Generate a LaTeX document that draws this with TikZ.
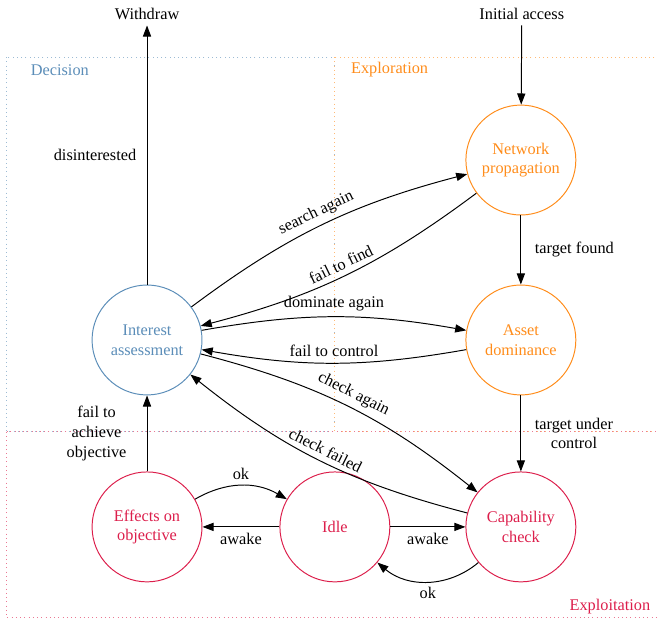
\documentclass[tikz,border=0pt]{standalone}
\usepackage{fontspec}
\setmainfont{Liberation Serif}
\usetikzlibrary{arrows.meta}
\definecolor{decision}{HTML}{5B8DB8}
\definecolor{explore}{HTML}{FF8C1A}
\definecolor{exploit}{HTML}{DC1E4B}
\tikzset{
  state/.style={circle, minimum size=2.37cm, inner sep=0pt, align=center, line width=0.6pt},
  decstate/.style={state, draw=decision, text=decision},
  expstate/.style={state, draw=explore, text=explore},
  xplstate/.style={state, draw=exploit, text=exploit},
  zone/.style={dotted, line width=0.6pt},
  trans/.style={-{Triangle[length=6.8pt,width=5pt]}, line width=0.6pt},
}

\begin{document}
\begin{tikzpicture}
  \useasboundingbox (0,0) rectangle (14.165,-13.367);
  % zones
  \draw[zone, draw=decision!60] (0.15,-1.23) rectangle (7.22,-9.31);
  \draw[zone, draw=explore!60] (7.22,-1.23) rectangle (14.6,-9.31);
  \draw[zone, draw=exploit!60] (0.15,-9.31) rectangle (14.6,-13.32);
  \node[text=decision] (zdec) at (1.29,-1.51) {Decision};
  \node[text=explore] (zexp) at (8.4,-1.51) {Exploration};
  \node[text=exploit] (zxpl) at (13.15,-13.07) {Exploitation};

  % states
  \node[decstate] (ia) at (3.17,-7.33) {Interest\\assessment};
  \node[expstate] (np) at (11.23,-3.45) {Network\\propagation};
  \node[expstate] (ad) at (11.23,-7.33) {Asset\\dominance};
  \node[xplstate] (cc) at (11.23,-11.36) {Capability\\check};
  \node[xplstate] (idle) at (7.22,-11.36) {Idle};
  \node[xplstate] (eo) at (3.17,-11.36) {Effects on\\objective};
  \node (wd) at (3.17,-0.30) {Withdraw};
  \node (init) at (11.25,-0.30) {Initial access};

  % transitions
  \draw[trans] (init) -- (np);
  \draw[trans] (ia) -- node[left=3pt] {disinterested} (wd);
  \draw[trans] (np) -- node[right=5pt] {target found} (ad);
  \draw[trans] (ad) -- node[right=5pt, align=center] {target under\\control} (cc);
  \draw[trans] (eo) -- node[left=9pt, align=center] {fail to\\achieve\\objective} (ia);
  \draw[trans] (ia) to[bend left=11] node[above, sloped] {search again} (np);
  \draw[trans] (np) to[bend left=11] node[above, sloped] {fail to find} (ia);
  \draw[trans] (ia) to[bend left=10] node[above] {dominate again} (ad);
  \draw[trans] (ad) to[bend left=10] node[above] {fail to control} (ia);
  \draw[trans] (ia) to[bend left=12] node[above, sloped] {check again} (cc);
  \draw[trans] (cc) to[bend left=12] node[above, sloped] {check failed} (ia);
  \draw[trans] (eo) to[bend left=30] node[above] {ok} (idle);
  \draw[trans] (idle) -- node[below] {awake} (eo);
  \draw[trans] (idle) -- node[below] {awake} (cc);
  \draw[trans] (cc) to[bend left=40] node[below] {ok} (idle);
\end{tikzpicture}
\end{document}
